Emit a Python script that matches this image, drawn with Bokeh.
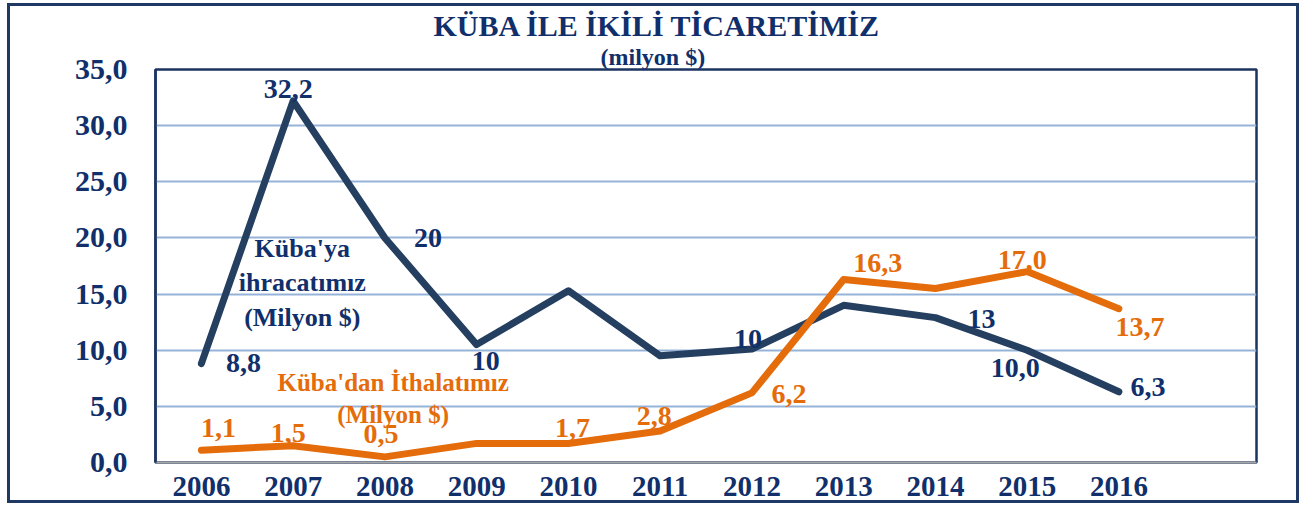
from bokeh.plotting import figure
from bokeh.models import Range1d, FixedTicker, Title, Label, ColumnDataSource
from bokeh.core.properties import value
from bokeh.embed import file_html
from bokeh.resources import INLINE

# ---- data ----
years = [2006, 2007, 2008, 2009, 2010, 2011, 2012, 2013, 2014, 2015, 2016]
exports = [8.8, 32.2, 20.0, 10.5, 15.3, 9.5, 10.1, 14.0, 12.9, 10.0, 6.3]
imports = [1.1, 1.5, 0.5, 1.7, 1.7, 2.8, 6.2, 16.3, 15.5, 17.0, 13.7]

export_label_years = [2006, 2007, 2008, 2009, 2012, 2014, 2015, 2016]
export_label_text = ["8,8", "32,2", "20", "10", "10", "13", "10,0", "6,3"]
import_label_years = [2006, 2007, 2008, 2010, 2011, 2012, 2013, 2015, 2016]
import_label_text = ["1,1", "1,5", "0,5", "1,7", "2,8", "6,2", "16,3", "17,0", "13,7"]

y_ticks = [0, 5, 10, 15, 20, 25, 30, 35]
y_tick_labels = ["0,0", "5,0", "10,0", "15,0", "20,0", "25,0", "30,0", "35,0"]

title_text = "KÜBA İLE İKİLİ TİCARETİMİZ"
subtitle_text = "(milyon $)"
export_name = "Küba'ya\nihracatımız\n(Milyon $)"
import_name = "Küba'dan İthalatımız\n(Milyon $)"

# ---- styles ----
FONT = "Liberation Serif"
NAVY_TEXT = "#102f6b"
NAVY_LINE = "#243f60"
ORANGE = "#e46c0a"
GRID = "#95b3d7"
FRAME = "#1c3461"

# label offsets (pixels) relative to the point
exp_dx = [42, -5, 43, 9, -4, 46, -12, 29]
exp_dy = [-1, -12, 0, 16, -10, 1, 18, -5]
imp_dx = [17, -5, -4, 4, -6, 37, 34, -5, 21]
imp_dy = [-22, -13, -23, -15, -15, 1, -16, -12, 18]

p = figure(width=1292, height=500, output_backend="svg", toolbar_location=None,
           x_range=Range1d(2005.5, 2017.5), y_range=Range1d(0, 35),
           min_border_left=145, min_border_right=46, min_border_top=63, min_border_bottom=44,
           margin=(3, 0, 0, 7))
p.styles = {"border": "3px solid #1f3864"}
p.background_fill_color = "white"
p.border_fill_color = "white"
p.outline_line_color = FRAME
p.outline_line_width = 2.5

# titles
p.add_layout(Title(text=subtitle_text, align="left", offset=445, text_font=FONT,
                   text_font_size="24px", text_font_style="bold", text_color=NAVY_TEXT,
                   standoff=0), "above")
p.add_layout(Title(text=title_text, align="left", offset=278, text_font=FONT,
                   text_font_size="30px", text_font_style="bold", text_color=NAVY_TEXT,
                   standoff=0), "above")

# axes
p.xaxis.ticker = FixedTicker(ticks=years)
p.xaxis.major_label_overrides = {y: str(y) for y in years}
p.yaxis.ticker = FixedTicker(ticks=y_ticks)
p.yaxis.major_label_overrides = dict(zip(y_ticks, y_tick_labels))
for ax in (p.xaxis, p.yaxis):
    ax.major_label_text_font = FONT
    ax.major_label_text_font_style = "bold"
    ax.major_label_text_color = NAVY_TEXT
    ax.major_tick_line_color = None
    ax.minor_tick_line_color = None
p.xaxis.major_label_text_font_size = "29px"
p.yaxis.major_label_text_font_size = "30px"
p.xaxis.axis_line_color = "#a6a6a6"
p.xaxis.axis_line_width = 2
p.xaxis.major_label_standoff = 8
p.yaxis.axis_line_color = FRAME
p.yaxis.axis_line_width = 2.5
p.yaxis.major_label_standoff = 22

p.xgrid.grid_line_color = None
p.ygrid.grid_line_color = GRID
p.ygrid.grid_line_width = 2

# lines
p.line(years, exports, line_color=NAVY_LINE, line_width=7, line_cap="round", line_join="round")
p.line(years, imports, line_color=ORANGE, line_width=7, line_cap="round", line_join="round")

# data labels
exp_vals = dict(zip(years, exports))
imp_vals = dict(zip(years, imports))
src_e = ColumnDataSource(dict(x=export_label_years, y=[exp_vals[y] for y in export_label_years],
                              t=export_label_text, dx=exp_dx, dy=exp_dy))
src_i = ColumnDataSource(dict(x=import_label_years, y=[imp_vals[y] for y in import_label_years],
                              t=import_label_text, dx=imp_dx, dy=imp_dy))
p.text(x="x", y="y", text="t", x_offset="dx", y_offset="dy", source=src_e,
       text_font=value(FONT), text_font_style="bold", text_font_size="28px",
       text_color=NAVY_TEXT, text_align="center", text_baseline="middle")
p.text(x="x", y="y", text="t", x_offset="dx", y_offset="dy", source=src_i,
       text_font=value(FONT), text_font_style="bold", text_font_size="28px",
       text_color=ORANGE, text_align="center", text_baseline="middle")

# series name labels
p.add_layout(Label(x=2007.1, y=16.0, text=export_name, text_font=FONT, text_font_style="bold",
                   text_font_size="26px", text_color=NAVY_TEXT, text_align="center",
                   text_baseline="middle", text_line_height=1.2))
p.add_layout(Label(x=2008.09, y=5.7, text=import_name, text_font=FONT, text_font_style="bold",
                   text_font_size="25px", text_color=ORANGE, text_align="center",
                   text_baseline="middle", text_line_height=1.2))

open("out.html", "w").write(file_html(p, INLINE))
